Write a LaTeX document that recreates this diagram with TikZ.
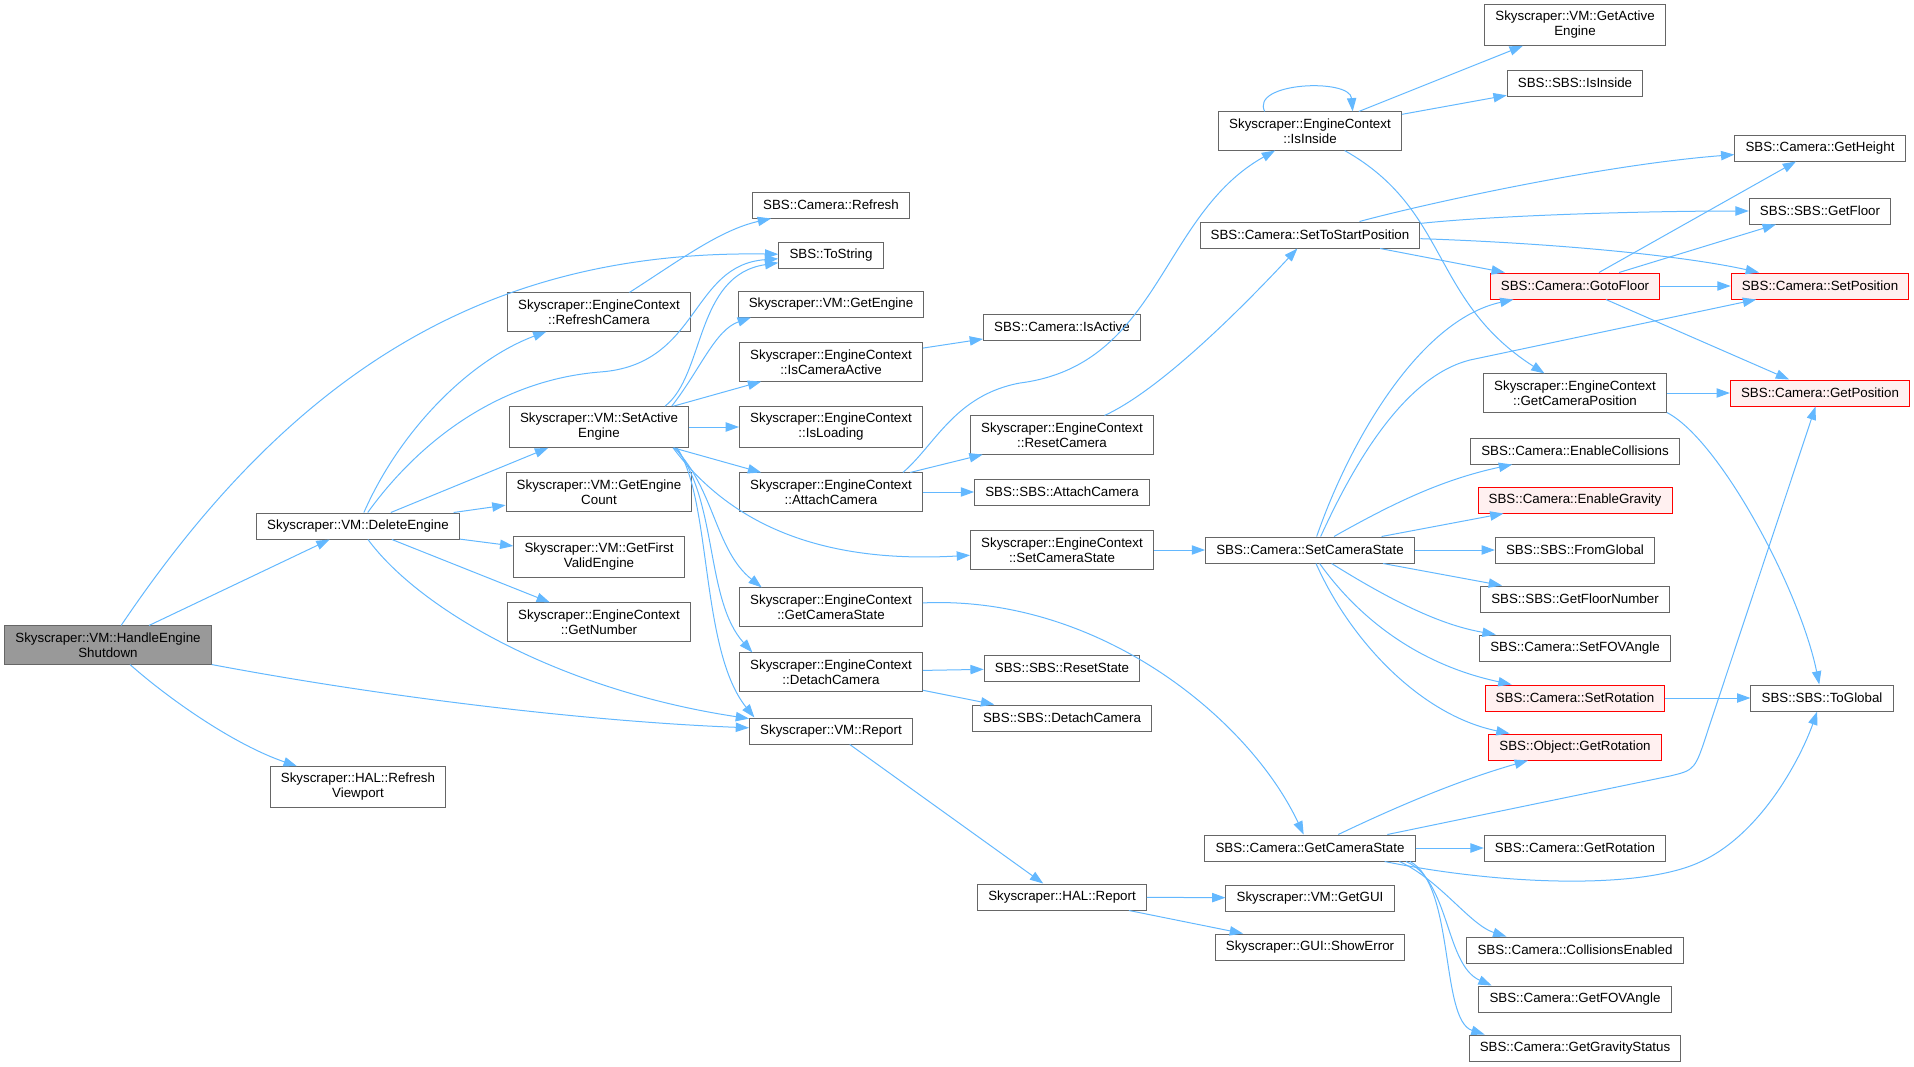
\documentclass[tikz,border=0pt]{standalone}
\usepackage{fontspec}
\setmainfont{Liberation Sans}
\usetikzlibrary{arrows.meta}
\definecolor{edgeblue}{HTML}{63B8FF}
\definecolor{boxline}{HTML}{666666}
\definecolor{hotfill}{HTML}{FFF0F0}
\definecolor{curfill}{HTML}{999999}
\begin{document}
\begin{tikzpicture}[x=0.75pt,y=-0.75pt,
	fn/.style={draw=boxline,fill=white,line width=0.75pt,font=\fontsize{10}{11.25}\selectfont,align=center,inner xsep=8pt,inner ysep=5pt,minimum height=19.5pt},
	fnhot/.style={fn,draw=red,fill=hotfill},
	fncur/.style={fn,fill=curfill},
	call/.style={->,>={Triangle[length=10pt,width=7pt]},draw=edgeblue,line width=0.75pt}]
			\useasboundingbox (0,0) rectangle (1914,1067);
			\node [fncur] (hes) at (108,645) {Skyscraper::VM::HandleEngine\\Shutdown};
			\node [fn] (delete) at (358,526) {Skyscraper::VM::DeleteEngine};
			\node [fn] (viewport) at (358,787) {Skyscraper::HAL::Refresh\\Viewport};
			\node [fn] (refreshcam) at (599,312) {Skyscraper::EngineContext\\::RefreshCamera};
			\node [fn] (setactive) at (599,427) {Skyscraper::VM::SetActive\\Engine};
			\node [fn] (enginecount) at (599,492) {Skyscraper::VM::GetEngine\\Count};
			\node [fn] (firstvalid) at (599,557) {Skyscraper::VM::GetFirst\\ValidEngine};
			\node [fn] (getnumber) at (599,622) {Skyscraper::EngineContext\\::GetNumber};
			\node [fn] (camrefresh) at (831,205) {SBS::Camera::Refresh};
			\node [fn] (tostring) at (831,255) {SBS::ToString};
			\node [fn] (getengine) at (831,304) {Skyscraper::VM::GetEngine};
			\node [fn] (camactive) at (831,362) {Skyscraper::EngineContext\\::IsCameraActive};
			\node [fn] (isloading) at (831,427) {Skyscraper::EngineContext\\::IsLoading};
			\node [fn] (attachcam) at (831,492) {Skyscraper::EngineContext\\::AttachCamera};
			\node [fn] (ecgetstate) at (831,607) {Skyscraper::EngineContext\\::GetCameraState};
			\node [fn] (detachcam) at (831,672) {Skyscraper::EngineContext\\::DetachCamera};
			\node [fn] (vmreport) at (831,731) {Skyscraper::VM::Report};
			\node [fn] (isactive) at (1062,327) {SBS::Camera::IsActive};
			\node [fn] (resetcam) at (1062,435) {Skyscraper::EngineContext\\::ResetCamera};
			\node [fn] (sbsattach) at (1062,492) {SBS::SBS::AttachCamera};
			\node [fn] (ecsetstate) at (1062,550) {Skyscraper::EngineContext\\::SetCameraState};
			\node [fn] (resetstate) at (1062,668) {SBS::SBS::ResetState};
			\node [fn] (sbsdetach) at (1062,718) {SBS::SBS::DetachCamera};
			\node [fn] (halreport) at (1062,897) {Skyscraper::HAL::Report};
			\node [fn] (isinside) at (1310,131) {Skyscraper::EngineContext\\::IsInside};
			\node [fn] (settostart) at (1310,235) {SBS::Camera::SetToStartPosition};
			\node [fn] (camsetstate) at (1310,550) {SBS::Camera::SetCameraState};
			\node [fn] (camgetstate) at (1310,848) {SBS::Camera::GetCameraState};
			\node [fn] (getgui) at (1310,898) {Skyscraper::VM::GetGUI};
			\node [fn] (showerror) at (1310,947) {Skyscraper::GUI::ShowError};
			\node [fn] (getactive) at (1575,25) {Skyscraper::VM::GetActive\\Engine};
			\node [fn] (sbsinside) at (1575,83) {SBS::SBS::IsInside};
			\node [fnhot] (gotofloor) at (1575,286) {SBS::Camera::GotoFloor};
			\node [fn] (getcampos) at (1575,393) {Skyscraper::EngineContext\\::GetCameraPosition};
			\node [fn] (enablecoll) at (1575,451) {SBS::Camera::EnableCollisions};
			\node [fnhot] (enablegrav) at (1575,500) {SBS::Camera::EnableGravity};
			\node [fn] (fromglobal) at (1575,550) {SBS::SBS::FromGlobal};
			\node [fn] (floornumber) at (1575,599) {SBS::SBS::GetFloorNumber};
			\node [fn] (setfov) at (1575,648) {SBS::Camera::SetFOVAngle};
			\node [fnhot] (setrot) at (1575,698) {SBS::Camera::SetRotation};
			\node [fnhot] (objgetrot) at (1575,747) {SBS::Object::GetRotation};
			\node [fn] (camgetrot) at (1575,848) {SBS::Camera::GetRotation};
			\node [fn] (collenabled) at (1575,950) {SBS::Camera::CollisionsEnabled};
			\node [fn] (getfov) at (1575,999) {SBS::Camera::GetFOVAngle};
			\node [fn] (gravstatus) at (1575,1048) {SBS::Camera::GetGravityStatus};
			\node [fn] (getheight) at (1820,148) {SBS::Camera::GetHeight};
			\node [fn] (getfloor) at (1820,211) {SBS::SBS::GetFloor};
			\node [fnhot] (setpos) at (1820,286) {SBS::Camera::SetPosition};
			\node [fnhot] (getpos) at (1820,393) {SBS::Camera::GetPosition};
			\node [fn] (toglobal) at (1822,698) {SBS::SBS::ToGlobal};
			\draw [call] (hes) .. controls (300,360) and (500,250) .. (tostring);
			\draw [call] (hes) -- (delete);
			\draw [call] (hes.south east) .. controls (400,700) and (600,722) .. (vmreport);
			\draw [call] (hes) .. controls (170,700) and (235,745) .. (viewport);
			\draw [call] (delete) .. controls (400,430) and (470,360) .. (refreshcam);
			\draw [call] (delete) .. controls (420,440) and (500,380) .. (600,372) .. controls (700,365) and (690,265) .. (tostring);
			\draw [call] (delete) -- (setactive);
			\draw [call] (delete) -- (enginecount);
			\draw [call] (delete) -- (firstvalid);
			\draw [call] (delete) -- (getnumber);
			\draw [call] (delete) .. controls (420,610) and (560,690) .. (vmreport);
			\draw [call] (refreshcam) .. controls (680,260) and (720,230) .. (camrefresh);
			\draw [call] ([xshift=-18pt]setactive.north east) .. controls (705,375) and (695,275) .. (tostring);
			\draw [call] ([xshift=-13pt]setactive.north east) .. controls (700,370) and (715,330) .. ([xshift=10pt]getengine.south west);
			\draw [call] (setactive) -- (camactive);
			\draw [call] (setactive) -- (isloading);
			\draw [call] (setactive) -- (attachcam);
			\draw [call] ([xshift=-12pt]setactive.south east) .. controls (720,510) and (800,565) .. (ecsetstate);
			\draw [call] ([xshift=-11pt]setactive.south east) .. controls (715,490) and (715,550) .. ([xshift=17pt]ecgetstate.north west);
			\draw [call] ([xshift=-10pt]setactive.south east) .. controls (718,500) and (705,600) .. ([xshift=10pt]detachcam.north west);
			\draw [call] ([xshift=-9pt]setactive.south east) .. controls (712,500) and (700,650) .. ([xshift=4pt]vmreport.north west);
			\draw [call] (camactive) -- (isactive);
			\draw [call] ([xshift=-15pt]attachcam.north east) .. controls (935,445) and (955,395) .. (1020,383) .. controls (1160,365) and (1160,215) .. (isinside);
			\draw [call] (attachcam) -- (resetcam);
			\draw [call] (attachcam) -- (sbsattach);
			\draw [call] (resetcam) .. controls (1160,390) and (1240,310) .. (settostart);
			\draw [call] (ecsetstate) -- (camsetstate);
			\draw [call] (ecgetstate) .. controls (1100,595) and (1250,720) .. (camgetstate);
			\draw [call] (detachcam) -- (resetstate);
			\draw [call] (detachcam) -- (sbsdetach);
			\draw [call] (vmreport) -- (halreport);
			\draw [call] (halreport) -- (getgui);
			\draw [call] (halreport) -- (showerror);
			\draw [call] ([xshift=-34pt]isinside.north) .. controls (1250,82) and (1350,78) .. ([xshift=32pt]isinside.north);
			\draw [call] (isinside) -- (getactive);
			\draw [call] (isinside) -- (sbsinside);
			\draw [call] (isinside) .. controls (1450,210) and (1430,300) .. (getcampos);
			\draw [call] (settostart) .. controls (1420,205) and (1600,165) .. (getheight);
			\draw [call] (settostart) .. controls (1500,215) and (1650,211) .. (getfloor);
			\draw [call] (settostart) .. controls (1550,243) and (1680,255) .. (setpos);
			\draw [call] (settostart) -- (gotofloor);
			\draw [call] (gotofloor) -- (getheight);
			\draw [call] (gotofloor) -- (getfloor);
			\draw [call] (gotofloor) -- (setpos);
			\draw [call] (gotofloor) -- (getpos);
			\draw [call] (getcampos) -- (getpos);
			\draw [call] (getcampos.south east) .. controls (1720,440) and (1800,590) .. (toglobal);
			\draw [call] ([xshift=5pt]camsetstate.north) .. controls (1350,440) and (1420,320) .. (gotofloor);
			\draw [call] ([xshift=8pt]camsetstate.north) .. controls (1360,450) and (1410,375) .. (1470,360) -- (setpos);
			\draw [call] (camsetstate) .. controls (1390,505) and (1440,480) .. (enablecoll);
			\draw [call] (camsetstate) -- (enablegrav);
			\draw [call] (camsetstate) -- (fromglobal);
			\draw [call] (camsetstate) -- (floornumber);
			\draw [call] (camsetstate) .. controls (1390,600) and (1440,625) .. (setfov);
			\draw [call] (camsetstate) .. controls (1360,620) and (1420,665) .. (setrot);
			\draw [call] (camsetstate) .. controls (1350,640) and (1420,715) .. (objgetrot);
			\draw [call] (setrot) -- (toglobal);
			\draw [call] (camgetstate) .. controls (1400,805) and (1460,780) .. (objgetrot);
			\draw [call] ([xshift=58pt]camgetstate.north) -- (1670,776) .. controls (1695,770) .. (1708,730) -- (getpos);
			\draw [call] (camgetstate) -- (camgetrot);
			\draw [call] ([xshift=56pt]camgetstate.south) .. controls (1500,885) and (1640,890) .. (1700,862) .. controls (1760,835) and (1800,760) .. (toglobal);
			\draw [call] ([xshift=67pt]camgetstate.south) .. controls (1440,880) and (1470,925) .. ([xshift=30pt]collenabled.north west);
			\draw [call] ([xshift=72pt]camgetstate.south) .. controls (1450,880) and (1445,965) .. ([xshift=10pt]getfov.north west);
			\draw [call] ([xshift=75pt]camgetstate.south) .. controls (1455,885) and (1440,1020) .. ([xshift=12pt]gravstatus.north west);
		\end{tikzpicture}
\end{document}
